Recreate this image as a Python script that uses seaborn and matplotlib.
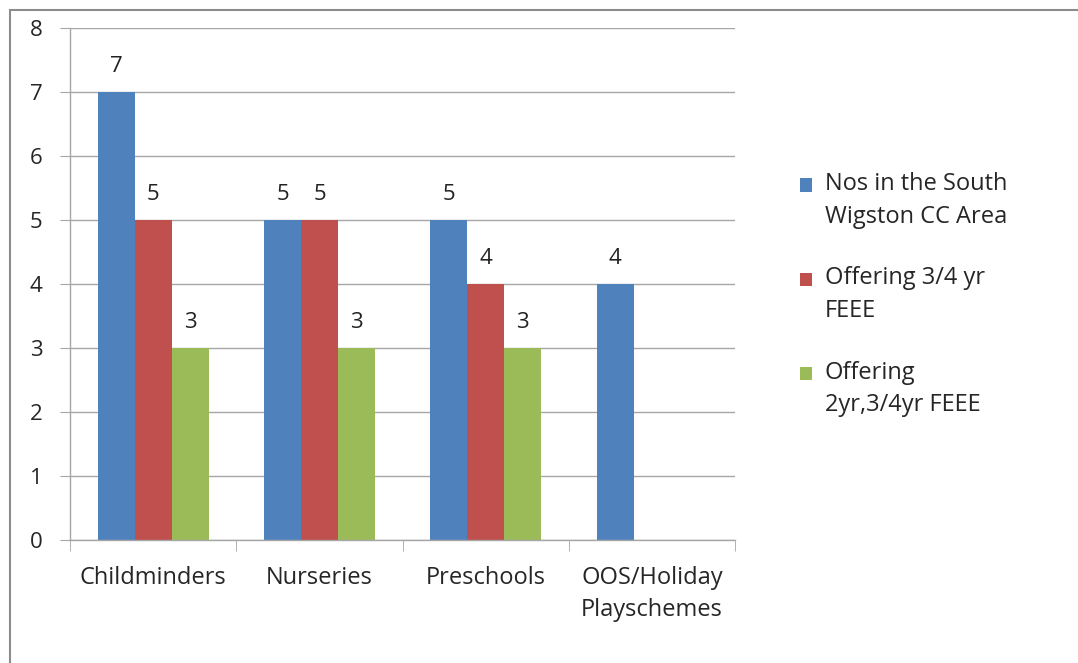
import pandas as pd
import matplotlib.pyplot as plt
import seaborn as sns
from matplotlib.patches import Rectangle

categories = ['Childminders', 'Nurseries', 'Preschools', 'OOS/Holiday\nPlayschemes']
series = ['Nos in the South\nWigston CC Area', 'Offering 3/4 yr\nFEEE', 'Offering\n2yr,3/4yr FEEE']
nos_area = [7, 5, 5, 4]
offering_34 = [5, 5, 4, None]
offering_2_34 = [3, 3, 3, None]
colors = ['#4F81BD', '#C0504D', '#9BBB59']

rows = []
for name, vals in zip(series, [nos_area, offering_34, offering_2_34]):
    for cat, v in zip(categories, vals):
        if v is not None:
            rows.append({'category': cat, 'series': name, 'value': v})
df = pd.DataFrame(rows)

sns.set_style('white')
plt.rcParams['font.family'] = ['Open Sans', 'DejaVu Sans']

fig = plt.figure(figsize=(10.78, 6.63), dpi=100)
ax = fig.add_axes([0.065, 0.1855, 0.617, 0.7723])

sns.barplot(data=df, x='category', y='value', hue='series', order=categories,
            hue_order=series, palette=colors, width=0.667, saturation=1,
            linewidth=0, ax=ax, errorbar=None, legend=True)

for cont in ax.containers:
    ax.bar_label(cont, fmt='%d', padding=11, fontsize=16, color='#222222')

ax.set_ylim(0, 8)
ax.set_xlim(-0.5, 3.5)
ax.set_yticks(range(0, 9))
ax.yaxis.grid(True, color='#a6a6a6', linewidth=1)
ax.set_axisbelow(True)
ax.set_xlabel('')
ax.set_ylabel('')
for s in ['top', 'right']:
    ax.spines[s].set_visible(False)
for s in ['left', 'bottom']:
    ax.spines[s].set_color('#a6a6a6')
    ax.spines[s].set_linewidth(1)

ax.tick_params(axis='y', length=7, color='#a6a6a6', labelsize=16, pad=13, left=True)
ax.set_xticks([-0.5, 0.5, 1.5, 2.5, 3.5], minor=True)
ax.tick_params(axis='x', which='minor', length=8, color='#a6a6a6', bottom=True)
ax.tick_params(axis='x', which='major', length=0, pad=19)
ax.set_xticklabels(categories, fontsize=17, linespacing=1.4)

handles, labels = ax.get_legend_handles_labels()
leg = ax.legend(handles, labels, loc='upper left', bbox_to_anchor=(0.7224, 0.772),
                bbox_transform=fig.transFigure, frameon=False, fontsize=17,
                handlelength=0.5, handleheight=0.5, handletextpad=0.55,
                labelspacing=1.6)
for t in leg.get_texts():
    t.set_linespacing(1.46)
for h in leg.legend_handles:
    h.set_y(h.get_y() + 11.5)

fig.patches.append(Rectangle((10 / 1078, -0.1), 1.2, 1 - 10 / 663 + 0.1,
                             transform=fig.transFigure, fill=False,
                             edgecolor='#8c8c8c', linewidth=1.5))

fig.savefig('out.png', dpi=100)
